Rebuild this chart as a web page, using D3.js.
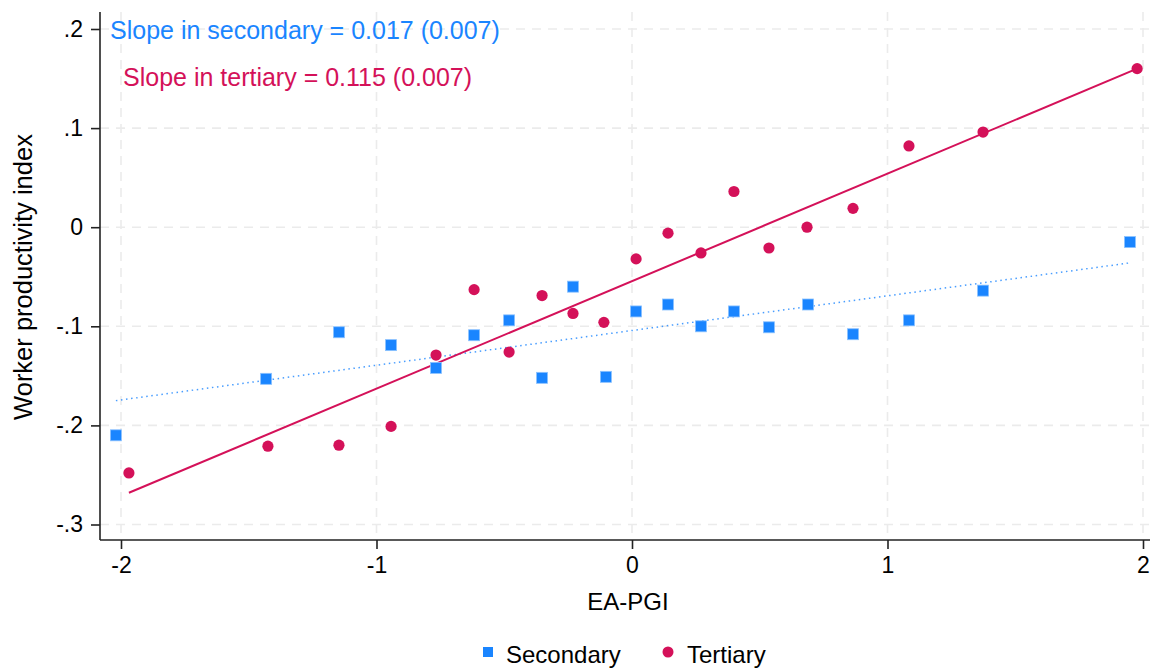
<!DOCTYPE html>
<html>
<head>
<meta charset="utf-8">
<script src="https://cdn.jsdelivr.net/npm/d3@7"></script>
<style>
  html, body { margin: 0; padding: 0; background: #fff; }
  svg { display: block; font-family: "Liberation Sans", Arial, Helvetica, sans-serif; }
</style>
</head>
<body>
<svg id="chart" width="1153" height="668"></svg>
<script>
// ---- Data ----
const xTicks = [-2, -1, 0, 1, 2];
const xTickLabels = ["-2", "-1", "0", "1", "2"];
const yTicks = [0.2, 0.1, 0, -0.1, -0.2, -0.3];
const yTickLabels = [".2", ".1", "0", "-.1", "-.2", "-.3"];

const secondaryX = [-2.02, -1.432, -1.147, -0.943, -0.767, -0.618, -0.481, -0.352, -0.231, -0.102,
                    0.016, 0.141, 0.270, 0.399, 0.536, 0.689, 0.865, 1.084, 1.374, 1.949];
const secondaryY = [-0.210, -0.153, -0.106, -0.119, -0.142, -0.109, -0.094, -0.152, -0.060, -0.151,
                    -0.085, -0.078, -0.100, -0.085, -0.101, -0.078, -0.108, -0.094, -0.064, -0.015];

const tertiaryX = [-1.969, -1.425, -1.147, -0.943, -0.767, -0.618, -0.481, -0.352, -0.231, -0.110,
                   0.016, 0.141, 0.270, 0.399, 0.536, 0.685, 0.865, 1.084, 1.374, 1.977];
const tertiaryY = [-0.248, -0.221, -0.220, -0.201, -0.129, -0.063, -0.126, -0.069, -0.087, -0.096,
                   -0.032, -0.006, -0.026, 0.036, -0.021, 0.000, 0.019, 0.082, 0.096, 0.160];

// fitted lines (endpoints)
const secondaryFitX = [-2.02, 1.949];
const secondaryFitY = [-0.175, -0.036];
const tertiaryFitX = [-1.969, 1.977];
const tertiaryFitY = [-0.268, 0.160];

const seriesNames = ["Secondary", "Tertiary"];
const annotations = ["Slope in secondary = 0.017 (0.007)", "Slope in tertiary = 0.115 (0.007)"];
const xTitle = "EA-PGI";
const yTitle = "Worker productivity index";

// ---- Layout ----
const blue = "#1A85FF", red = "#D41159";
const pL = 100, pR = 1150, pT = 12, pB = 540;
const svg = d3.select("#chart");

const x = d3.scaleLinear().domain([-2, 2]).range([121, 1143]);
const y = d3.scaleLinear().domain([-0.3, 0.2]).range([524.5, 29]);

// gridlines
const grid = svg.append("g").attr("stroke", "#ebebeb").attr("stroke-width", 1.6).attr("stroke-dasharray", "9 7");
grid.selectAll("line.v").data(xTicks).enter().append("line")
  .attr("x1", d => x(d)).attr("x2", d => x(d)).attr("y1", pT).attr("y2", pB);
grid.selectAll("line.h").data(yTicks).enter().append("line")
  .attr("y1", d => y(d)).attr("y2", d => y(d)).attr("x1", pL).attr("x2", pR);

// axes
const xAxis = d3.axisBottom(x).tickValues(xTicks).tickFormat((d, i) => xTickLabels[i]).tickSize(9).tickSizeOuter(0).tickPadding(8);
const gx = svg.append("g").attr("transform", `translate(0,${pB})`).call(xAxis);
gx.select(".domain").attr("d", `M${pL},0H${pR}`).attr("stroke", "#222").attr("stroke-width", 1.6);
gx.selectAll(".tick line").attr("stroke", "#222").attr("stroke-width", 1.6);
gx.selectAll(".tick text").attr("font-size", 23).attr("fill", "#000").attr("font-family", null);

const yAxis = d3.axisLeft(y).tickValues(yTicks).tickFormat((d, i) => yTickLabels[i]).tickSize(9).tickSizeOuter(0).tickPadding(8);
const gy = svg.append("g").attr("transform", `translate(${pL},0)`).call(yAxis);
gy.select(".domain").attr("d", `M0,${pT}V${pB}`).attr("stroke", "#222").attr("stroke-width", 1.6);
gy.selectAll(".tick line").attr("stroke", "#222").attr("stroke-width", 1.6);
gy.selectAll(".tick text").attr("font-size", 23).attr("fill", "#000").attr("font-family", null);

// axis titles
svg.append("text").attr("x", (pL + pR) / 2 + 3).attr("y", 610).attr("text-anchor", "middle")
  .attr("font-size", 24).text(xTitle);
svg.append("text").attr("transform", "translate(32,277) rotate(-90)").attr("text-anchor", "middle")
  .attr("font-size", 25.5).text(yTitle);

// fit lines
const line = d3.line().x(d => x(d[0])).y(d => y(d[1]));
svg.append("path").datum(secondaryFitX.map((v, i) => [v, secondaryFitY[i]]))
  .attr("d", line).attr("fill", "none").attr("stroke", blue).attr("stroke-width", 1.5)
  .attr("stroke-dasharray", "1.5 3.6").attr("opacity", 0.8);
svg.append("path").datum(tertiaryFitX.map((v, i) => [v, tertiaryFitY[i]]))
  .attr("d", line).attr("fill", "none").attr("stroke", red).attr("stroke-width", 2);

// points
const sq = 11;
svg.append("g").selectAll("rect").data(secondaryX.map((v, i) => [v, secondaryY[i]])).enter().append("rect")
  .attr("x", d => x(d[0]) - sq / 2).attr("y", d => y(d[1]) - sq / 2)
  .attr("width", sq).attr("height", sq).attr("fill", blue)
  .attr("stroke", "#8cc2ff").attr("stroke-width", 0.8);
svg.append("g").selectAll("circle").data(tertiaryX.map((v, i) => [v, tertiaryY[i]])).enter().append("circle")
  .attr("cx", d => x(d[0])).attr("cy", d => y(d[1])).attr("r", 5.6).attr("fill", red);

// annotations
svg.append("text").attr("x", 110).attr("y", 39).attr("font-size", 25).attr("fill", blue).text(annotations[0]);
svg.append("text").attr("x", 123).attr("y", 86).attr("font-size", 25).attr("fill", red).text(annotations[1]);

// legend
svg.append("rect").attr("x", 483).attr("y", 647).attr("width", 10).attr("height", 10).attr("fill", blue);
svg.append("text").attr("x", 506).attr("y", 663).attr("font-size", 24).text(seriesNames[0]);
svg.append("circle").attr("cx", 668).attr("cy", 652).attr("r", 5.5).attr("fill", red);
svg.append("text").attr("x", 687).attr("y", 663).attr("font-size", 24).text(seriesNames[1]);
</script>
</body>
</html>
